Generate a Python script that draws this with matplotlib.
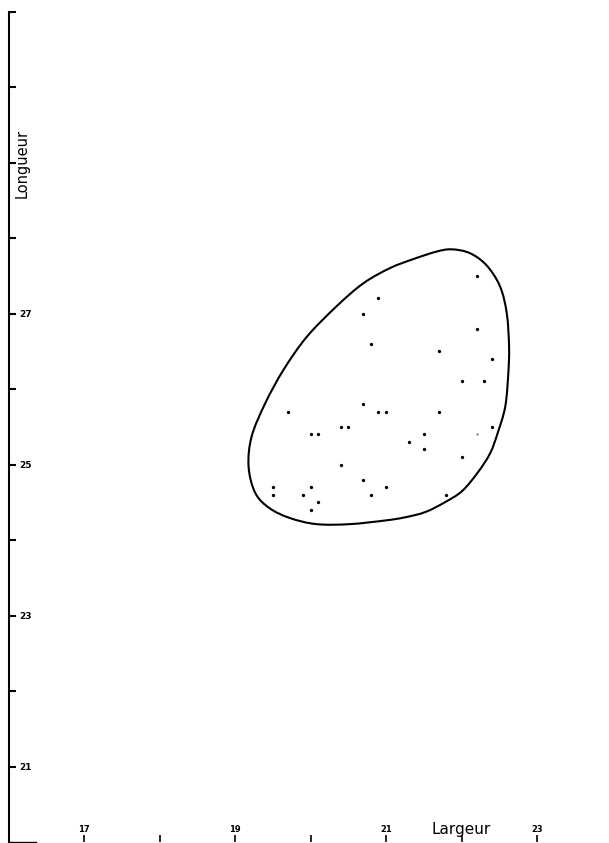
import numpy as np
import matplotlib
matplotlib.use("Agg")
import matplotlib.pyplot as plt
from matplotlib.path import Path
from matplotlib.patches import PathPatch

# measured specimens (largeur, longueur)
largeur = [22.2, 20.9, 20.7, 22.2, 20.8, 21.7, 22.4, 22.0, 22.3, 20.7,
           19.7, 20.9, 21.0, 21.7, 20.4, 20.5, 22.4, 20.0, 20.1, 21.5,
           21.3, 21.5, 22.0, 20.4, 20.7, 19.5, 20.0, 21.0, 19.9, 19.5,
           20.8, 21.8, 20.1, 20.0]
longueur = [27.5, 27.2, 27.0, 26.8, 26.6, 26.5, 26.4, 26.1, 26.1, 25.8,
            25.7, 25.7, 25.7, 25.7, 25.5, 25.5, 25.5, 25.4, 25.4, 25.4,
            25.3, 25.2, 25.1, 25.0, 24.8, 24.7, 24.7, 24.7, 24.6, 24.6,
            24.6, 24.6, 24.5, 24.4]
# faint point
largeur_faint = [22.2]
longueur_faint = [25.4]

# outline of the cloud (clockwise from top)
contour_x = [21.87, 22.11, 22.33, 22.51, 22.60, 22.63, 22.62, 22.58, 22.48,
             22.38, 22.22, 22.01, 21.78, 21.52, 21.25, 21.00, 20.52, 20.08,
             19.73, 19.46, 19.27, 19.18, 19.22, 19.40, 19.64, 19.95, 20.35,
             20.70, 21.05, 21.36, 21.67]
contour_y = [27.85, 27.80, 27.64, 27.36, 27.00, 26.56, 26.21, 25.77, 25.42,
             25.15, 24.90, 24.65, 24.50, 24.37, 24.30, 24.26, 24.21, 24.21,
             24.29, 24.42, 24.62, 24.97, 25.37, 25.81, 26.25, 26.69, 27.10,
             27.40, 27.60, 27.72, 27.82]

x_ticks = [17, 18, 19, 20, 21, 22, 23]
x_labels = ['17', '', '19', '', '21', '', '23']
y_ticks = [21, 22, 23, 24, 25, 26, 27, 28, 29, 30, 31]
y_labels = ['21', '', '23', '', '25', '', '27', '', '', '', '']

fig = plt.figure(figsize=(6.09, 8.43), dpi=100)
ax = fig.add_axes([8.5 / 609, 1 / 843, 1 - 8.5 / 609, 830.5 / 843])
ax.set_xlim(16, 16 + 600.5 / 75.5)
ax.set_ylim(20, 31)

# closed smooth outline: catmull-rom -> cubic bezier
P = np.column_stack([contour_x, contour_y])
n = len(P)
verts = [P[0]]
codes = [Path.MOVETO]
for i in range(n):
    p0, p1, p2, p3 = P[i - 1], P[i], P[(i + 1) % n], P[(i + 2) % n]
    verts += [p1 + (p2 - p0) / 6, p2 - (p3 - p1) / 6, p2]
    codes += [Path.CURVE4] * 3
ax.add_patch(PathPatch(Path(verts, codes), fill=False, lw=1.5, ec='black'))

ax.plot(largeur, longueur, 'o', ms=2.4, color='black', mec='none')
ax.plot(largeur_faint, longueur_faint, 's', ms=1.3, color='#555555', mec='none')

for s in ['top', 'right']:
    ax.spines[s].set_visible(False)
ax.spines['left'].set_linewidth(1.5)
ax.spines['bottom'].set_linewidth(1.0)
ax.spines['bottom'].set_bounds(16, 16.37)

ax.set_xticks(x_ticks, x_labels)
ax.set_yticks(y_ticks, y_labels)
ax.tick_params(axis='x', direction='in', length=5, width=1.2, pad=-12,
               labelsize=6)
ax.tick_params(axis='y', direction='in', length=5, width=1.5, pad=-16.5,
               labelsize=6.5)
for t in ax.get_xticklabels() + ax.get_yticklabels():
    t.set_fontweight('bold')

ax.set_xlabel('Largeur', fontsize=11)
ax.xaxis.set_label_coords(22.0, 20.17, transform=ax.transData)
ax.xaxis.label.set_va('center')
ax.set_ylabel('Longueur', fontsize=10.5)
ax.yaxis.set_label_coords(16.18, 28.99, transform=ax.transData)
ax.yaxis.label.set_va('center')

fig.savefig('out.png', dpi=100)
